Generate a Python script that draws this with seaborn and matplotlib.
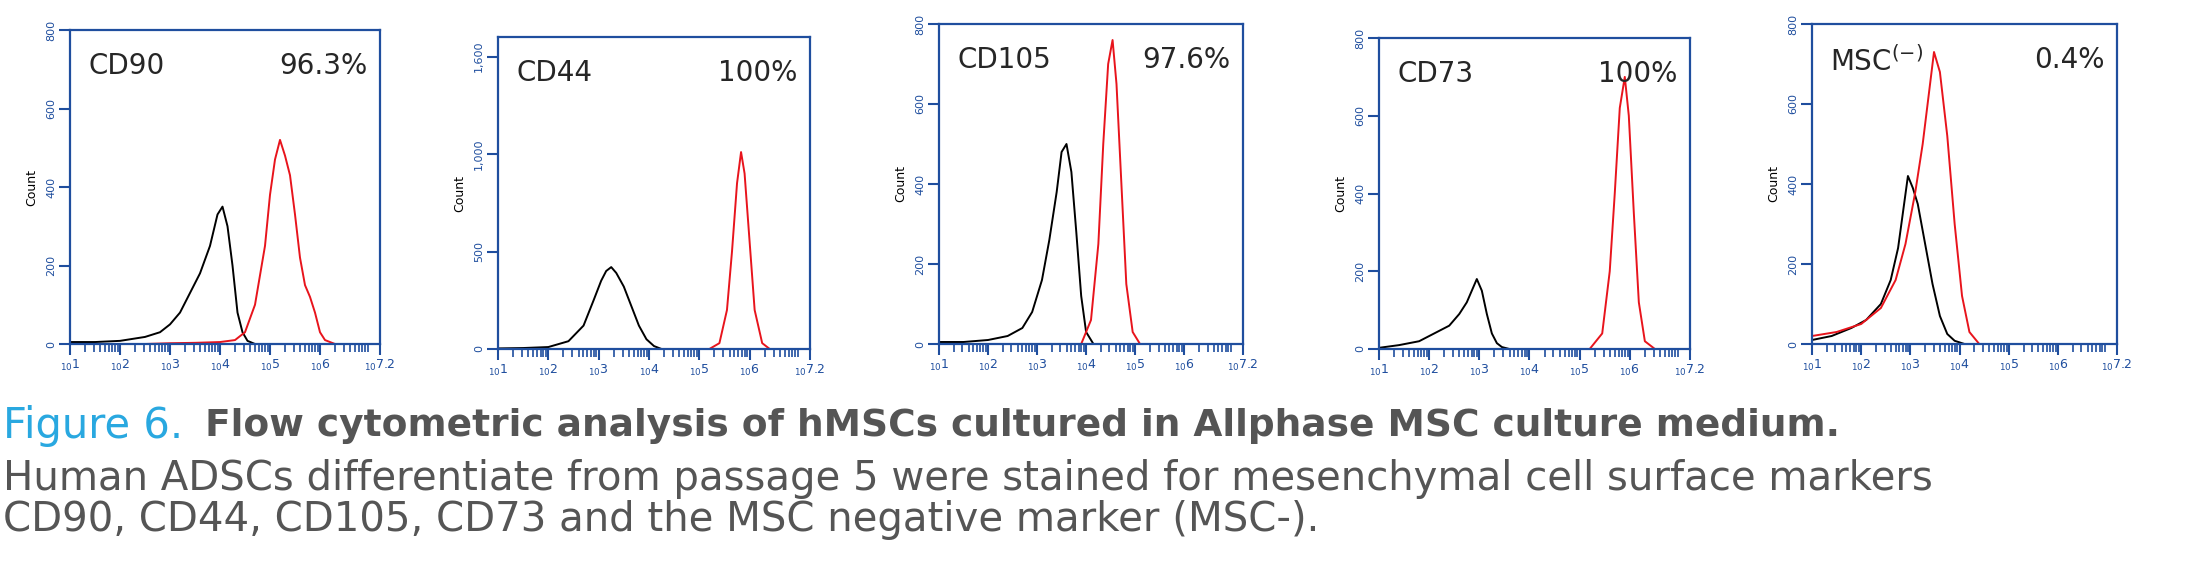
import numpy as np
import matplotlib
matplotlib.use("Agg")
import matplotlib.pyplot as plt
import seaborn as sns
import pandas as pd

sns.set_theme(style="white")
plt.rcParams['font.family'] = ['DejaVu Sans']

markers = ["CD90", "CD44", "CD105", "CD73", r"MSC$^{(-)}$"]
percents = ["96.3%", "100%", "97.6%", "100%", "0.4%"]
ymax = [800, 1600, 800, 800, 800]
ytick_vals = [[0, 200, 400, 600, 800], [0, 500, 1000, 1500], [0, 200, 400, 600, 800],
              [0, 200, 400, 600, 800], [0, 200, 400, 600, 800]]
ytick_labels = [["0", "200", "400", "600", "800"], ["0", "500", "1,000", "1,600"],
                ["0", "200", "400", "600", "800"], ["0", "200", "400", "600", "800"],
                ["0", "200", "400", "600", "800"]]

# isotype control (black) curves: log10 fluorescence, count
black_x = [
    [1, 1.5, 2, 2.5, 2.8, 3.0, 3.2, 3.4, 3.6, 3.8, 3.95, 4.05, 4.15, 4.25, 4.35, 4.45, 4.55, 4.7],
    [1, 1.5, 2.0, 2.4, 2.7, 2.9, 3.05, 3.15, 3.25, 3.35, 3.5, 3.65, 3.8, 3.95, 4.1, 4.25],
    [1, 1.5, 2.0, 2.4, 2.7, 2.9, 3.1, 3.25, 3.4, 3.5, 3.6, 3.7, 3.8, 3.9, 4.0, 4.15],
    [1, 1.4, 1.8, 2.1, 2.4, 2.6, 2.75, 2.85, 2.95, 3.05, 3.15, 3.25, 3.35, 3.45, 3.6],
    [1, 1.4, 1.8, 2.1, 2.4, 2.6, 2.75, 2.85, 2.95, 3.05, 3.15, 3.3, 3.45, 3.6, 3.75, 3.9, 4.1],
]
black_y = [
    [5, 5, 8, 18, 30, 50, 80, 130, 180, 250, 330, 350, 300, 200, 80, 30, 8, 0],
    [3, 5, 10, 40, 120, 250, 350, 400, 420, 390, 320, 220, 120, 50, 15, 0],
    [5, 5, 10, 20, 40, 80, 160, 260, 380, 480, 500, 430, 280, 120, 30, 0],
    [3, 10, 20, 40, 60, 90, 120, 150, 180, 150, 90, 40, 15, 5, 0],
    [10, 20, 40, 60, 100, 160, 240, 330, 420, 390, 350, 250, 150, 70, 25, 8, 0],
]
# stained (red) curves
red_x = [
    [2.5, 3, 3.5, 4, 4.3, 4.5, 4.7, 4.9, 5.0, 5.1, 5.2, 5.3, 5.4, 5.5, 5.6, 5.7, 5.8, 5.9, 6.0, 6.1, 6.3],
    [5.2, 5.4, 5.55, 5.65, 5.75, 5.83, 5.9, 6.0, 6.1, 6.25, 6.4],
    [3.9, 4.1, 4.25, 4.35, 4.45, 4.54, 4.62, 4.72, 4.82, 4.95, 5.1],
    [5.2, 5.45, 5.6, 5.7, 5.8, 5.9, 5.98, 6.08, 6.18, 6.3, 6.5],
    [1, 1.5, 2.0, 2.4, 2.7, 2.9, 3.1, 3.25, 3.4, 3.48, 3.6, 3.75, 3.9, 4.05, 4.2, 4.4],
]
red_y = [
    [0, 2, 3, 5, 10, 30, 100, 250, 380, 470, 520, 480, 430, 330, 220, 150, 120, 80, 30, 10, 0],
    [0, 30, 200, 500, 850, 1010, 900, 550, 200, 30, 0],
    [0, 60, 250, 500, 700, 760, 650, 400, 150, 30, 0],
    [0, 40, 200, 400, 620, 700, 600, 350, 120, 20, 0],
    [20, 30, 50, 90, 160, 250, 380, 500, 650, 730, 680, 520, 300, 120, 30, 0],
]

BLUE = "#1f4e9e"
axes_pos = [(70, 30, 380, 344), (498, 37, 810, 349), (939, 24, 1243, 344),
            (1379, 38, 1690, 349), (1812, 24, 2117, 344)]
W, H = 2191, 574
fig = plt.figure(figsize=(W / 100, H / 100), dpi=100)

for i in range(5):
    l, t, r, b = axes_pos[i]
    ax = fig.add_axes([l / W, 1 - b / H, (r - l) / W, (b - t) / H])
    dfb = pd.DataFrame({"x": black_x[i], "y": black_y[i]})
    dfr = pd.DataFrame({"x": red_x[i], "y": red_y[i]})
    sns.lineplot(data=dfb, x="x", y="y", ax=ax, color="black", lw=1.4)
    sns.lineplot(data=dfr, x="x", y="y", ax=ax, color="#e8141c", lw=1.4)
    ax.set_xlim(1, 7.2)
    ax.set_ylim(0, ymax[i])
    for s in ax.spines.values():
        s.set_color(BLUE)
        s.set_linewidth(1.6)
    ax.set_yticks(ytick_vals[i])
    ax.set_yticklabels(ytick_labels[i], rotation=90, va="center", color=BLUE, fontsize=8)
    ax.set_xticks([1, 2, 3, 4, 5, 6, 7.2])
    ax.set_xticklabels([r"$_{10}$" + s for s in ["1", "2", "3", "4", "5", "6", "7.2"]],
                       color=BLUE, fontsize=9)
    minors = [np.log10(k) + n for n in range(1, 8) for k in range(2, 10) if np.log10(k) + n < 7.2]
    ax.set_xticks(minors, minor=True)
    ax.tick_params(axis="both", which="major", direction="out", length=8, width=1.5, color=BLUE, bottom=True, left=True, pad=2)
    ax.tick_params(axis="x", which="minor", direction="out", length=6, width=1.2, color=BLUE, bottom=True)
    ax.set_xlabel("")
    ax.set_ylabel("Count", fontsize=9, color="black", labelpad=6)
    ax.text(0.06, 0.93, markers[i], transform=ax.transAxes, fontsize=20, va="top", ha="left")
    ax.text(0.96, 0.93, percents[i], transform=ax.transAxes, fontsize=20, va="top", ha="right")

fig.text(3 / W, 1 - 426 / H, "Figure 6.", color="#29a8e0", fontsize=30, va="center", ha="left")
fig.text(205 / W, 1 - 426 / H, "Flow cytometric analysis of hMSCs cultured in Allphase MSC culture medium.",
         color="#555555", fontsize=27, fontweight="bold", va="center", ha="left")
fig.text(3 / W, 1 - 479 / H,
         "Human ADSCs differentiate from passage 5 were stained for mesenchymal cell surface markers",
         color="#555555", fontsize=29, va="center", ha="left")
fig.text(3 / W, 1 - 520 / H,
         "CD90, CD44, CD105, CD73 and the MSC negative marker (MSC-).",
         color="#555555", fontsize=29, va="center", ha="left")

fig.savefig("out.png", dpi=100)
